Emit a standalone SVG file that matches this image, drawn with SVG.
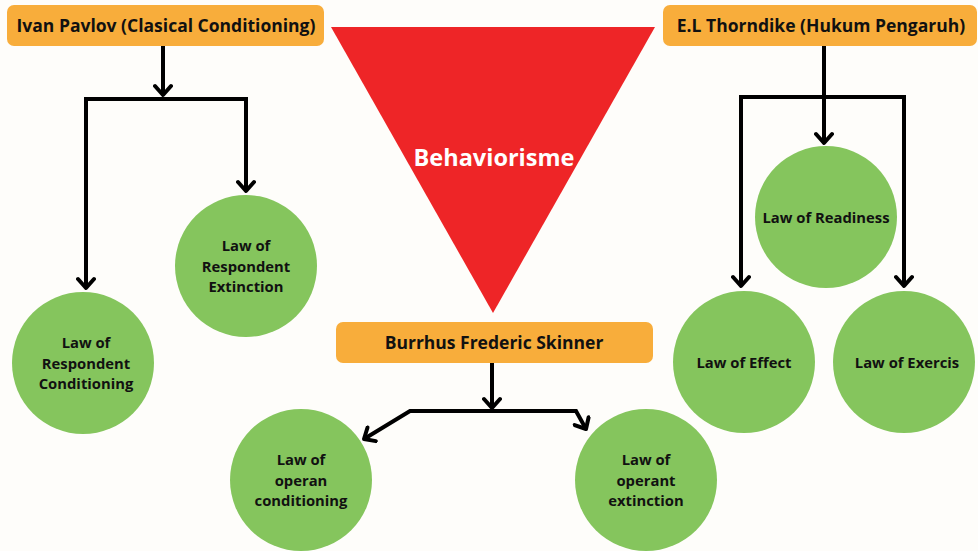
<svg xmlns="http://www.w3.org/2000/svg" width="978" height="551" viewBox="0 0 978 551">
<defs>
<style>
.box{fill:#F8AD3B;}
.circ{fill:#85C55D;}
.t{font-family:"Open Sans","Liberation Sans",sans-serif;font-weight:bold;fill:#111;text-anchor:middle;}
.bt{font-size:17.5px;}
.ct{font-size:14.8px;}
.conn{fill:none;stroke:#000;stroke-width:4;stroke-linejoin:miter;}
</style>
<marker id="ah" markerUnits="userSpaceOnUse" markerWidth="20" markerHeight="20" viewBox="-12 -10 16 20" refX="0" refY="0" orient="auto">
<path d="M-9,-8 L0,0 L-9,8" fill="none" stroke="#000" stroke-width="4" stroke-linecap="round" stroke-linejoin="round"/>
</marker>
</defs>
<rect width="978" height="551" fill="#FEFDFA"/>

<g id="triangle">
<polygon points="331,27 655,27 493,313" fill="#EE2527"/>
<text x="494" y="166" class="t" style="fill:#fff;font-size:23.5px">Behaviorisme</text>
</g>

<g id="connectors">
<path class="conn" d="M163,46 V95" marker-end="url(#ah)"/>
<path class="conn" d="M164,99 H86 V288" marker-end="url(#ah)"/>
<path class="conn" d="M164,99 H246 V191" marker-end="url(#ah)"/>
<path class="conn" d="M824,46 V143" marker-end="url(#ah)"/>
<path class="conn" d="M825,97 H741 V286" marker-end="url(#ah)"/>
<path class="conn" d="M825,97 H904 V286" marker-end="url(#ah)"/>
<path class="conn" d="M492,363 V408" marker-end="url(#ah)"/>
<path class="conn" d="M493,411 H410 L364,439" marker-end="url(#ah)"/>
<path class="conn" d="M493,411 H576 L586,429" marker-end="url(#ah)"/>
</g>

<g id="pavlov">
<rect class="box" x="7" y="5" width="317" height="41" rx="7"/>
<text x="166" y="32" class="t bt">Ivan Pavlov (Clasical Conditioning)</text>
</g>

<g id="thorndike">
<rect class="box" x="663" y="5" width="314" height="41" rx="7"/>
<text x="821" y="32" class="t bt">E.L Thorndike (Hukum Pengaruh)</text>
</g>

<g id="skinner">
<rect class="box" x="336" y="322" width="317" height="41" rx="7"/>
<text x="494" y="349" class="t bt">Burrhus Frederic Skinner</text>
</g>

<g id="respondent-extinction">
<circle class="circ" cx="246" cy="266" r="71"/>
<text class="t ct" x="246" y="251">Law of</text>
<text class="t ct" x="246" y="272">Respondent</text>
<text class="t ct" x="246" y="292">Extinction</text>
</g>

<g id="respondent-conditioning">
<circle class="circ" cx="83" cy="363" r="71"/>
<text class="t ct" x="86" y="348">Law of</text>
<text class="t ct" x="86" y="369">Respondent</text>
<text class="t ct" x="86" y="389">Conditioning</text>
</g>

<g id="readiness">
<circle class="circ" cx="826" cy="217" r="71"/>
<text class="t ct" x="826" y="223">Law of Readiness</text>
</g>

<g id="effect">
<circle class="circ" cx="744" cy="362" r="71"/>
<text class="t ct" x="744" y="368">Law of Effect</text>
</g>

<g id="exercis">
<circle class="circ" cx="904" cy="362" r="71"/>
<text class="t ct" x="907" y="368">Law of Exercis</text>
</g>

<g id="operan-conditioning">
<circle class="circ" cx="301" cy="480" r="71"/>
<text class="t ct" x="301" y="465">Law of</text>
<text class="t ct" x="301" y="486">operan</text>
<text class="t ct" x="301" y="506">conditioning</text>
</g>

<g id="operant-extinction">
<circle class="circ" cx="646" cy="480" r="71"/>
<text class="t ct" x="646" y="465">Law of</text>
<text class="t ct" x="646" y="486">operant</text>
<text class="t ct" x="646" y="506">extinction</text>
</g>
</svg>
